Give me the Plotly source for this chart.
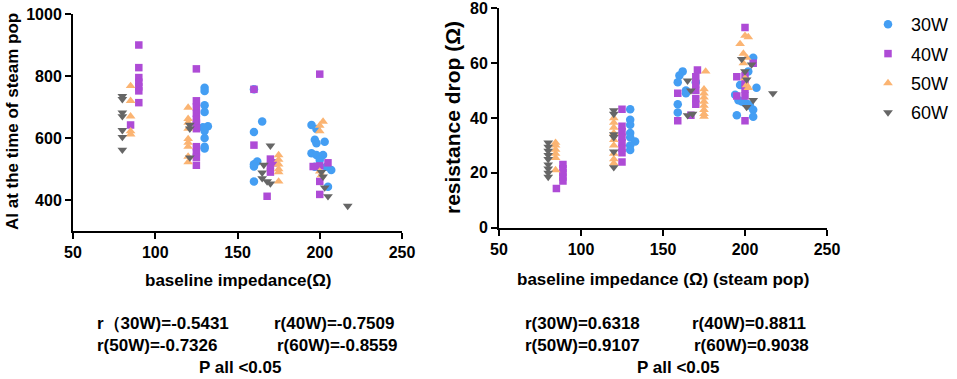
import plotly.graph_objects as go

# ---------------- data ----------------
series_names = ["30W", "40W", "50W", "60W"]

# Left panel: baseline impedance vs AI at the time of steam pop
ai_x_30 = [130, 130, 130, 130, 132, 129, 130, 130, 130, 130,
           165, 160, 162, 160, 160, 160, 160,
           195, 198, 197, 198, 203, 195, 198, 202, 200, 197, 204, 207, 205]
ai_y_30 = [762, 752, 706, 684, 638, 635, 623, 600, 572, 566,
           653, 619, 524, 515, 508, 460, 757,
           642, 629, 594, 583, 588, 551, 545, 545, 529, 507, 507, 497, 443]
ai_x_40 = [90, 90, 90, 90, 90, 90, 90, 85,
           125, 125, 125, 125, 125, 125, 125, 125, 125, 125, 125,
           160, 160, 170, 172, 170, 170, 168,
           200, 196, 205, 200, 200, 200]
ai_y_40 = [900, 827, 795, 780, 765, 752, 714, 642,
           823, 720, 700, 680, 660, 648, 630, 572, 555, 538, 512,
           757, 577, 532, 520, 510, 490, 412,
           806, 508, 520, 510, 460, 418]
ai_x_50 = [85, 85, 85, 85, 85,
           120, 120, 120, 120, 120, 120, 120, 120, 120,
           175, 175, 175, 175, 175, 175,
           202, 200, 200, 200, 201]
ai_y_50 = [768, 720, 670, 622, 612,
           698, 662, 650, 630, 597, 585, 572, 540, 522,
           545, 530, 515, 500, 490, 460,
           653, 640, 622, 492, 480]
ai_x_60 = [80, 80, 80, 80, 80, 80, 80,
           121, 121, 121,
           170, 166, 165, 165, 168, 170,
           201, 202, 203, 205, 217]
ai_y_60 = [735, 725, 682, 670, 625, 603, 562,
           642, 630, 537,
           575, 513, 488, 470, 460, 453,
           490, 475, 440, 412, 381]

# Right panel: baseline impedance vs resistance drop
rd_x_30 = [130, 130, 130, 130, 130, 133, 130, 130,
           162, 160, 159, 170, 164, 164, 159, 159,
           205, 202, 197, 207, 194, 196, 198, 200, 202, 203, 205, 195, 205]
rd_y_30 = [43.2, 39.4, 37.5, 34.5, 33, 31.4, 30, 28.3,
           57, 55.5, 53, 53, 50, 49, 45, 42,
           62, 57, 52, 51, 48.5, 46.5, 46, 45.5, 45, 44.5, 43, 41, 40.5]
rd_x_40 = [89, 89, 89, 89, 89, 85,
           125, 125, 125, 125, 125, 125, 125, 125,
           159, 159, 171, 170, 170, 170, 170, 170, 167,
           200, 195, 205, 200, 200, 200, 200, 195, 200]
rd_y_40 = [23, 21.5, 20, 18.5, 17, 14.3,
           43.2, 37, 35, 33, 31, 29, 27.3, 24,
           49, 39, 57.5, 55, 52.5, 50, 47, 45, 41,
           73, 55, 60, 55.5, 53, 50.5, 48, 48, 39]
rd_x_50 = [84.5, 84.5, 84.5, 84.5, 84.5, 84.5,
           120, 120, 120, 120, 120, 120, 120, 120, 120,
           176, 175, 175, 175, 175, 175, 175, 175, 175,
           200, 202, 197, 199, 201, 199, 200, 201, 202]
rd_y_50 = [31, 30, 28.5, 27, 25.5, 21,
           40, 38.3, 36.5, 34.5, 32, 30, 27, 25, 23.5,
           57, 50.5, 49, 47.5, 46, 44.5, 43, 41.5, 40.5,
           70, 69.5, 67, 63.5, 62, 60, 54.5, 52, 51]
rd_x_60 = [80, 80, 80, 80, 80, 80, 80, 80, 80,
           120, 120, 120, 120, 120, 120,
           165, 167, 165, 168,
           198, 204, 200, 201, 205, 201, 217]
rd_y_60 = [31, 29.5, 28, 26.5, 25, 23, 21.5, 20, 18.5,
           42.8, 41.5, 34, 33, 27.7, 22,
           53.6, 50, 41, 41.5,
           61.5, 59.5, 57, 54, 46.5, 44, 49]

x_ticks = [50, 100, 150, 200, 250]
ai_ticks = [400, 600, 800, 1000]
rd_ticks = [0, 20, 40, 60, 80]

left_stats = [["r（30W)=-0.5431", "r(40W)=-0.7509"],
              ["r(50W)=-0.7326", "r(60W)=-0.8559"]]
right_stats = [["r(30W)=0.6318", "r(40W)=0.8811"],
               ["r(50W)=0.9107", "r(60W)=0.9038"]]
p_text = "P all <0.05"

# ---------------- styling ----------------
colors = ["#449ef3", "#ae4bd6", "#fbb472", "#666666"]
symbols = ["circle", "square", "triangle-up", "triangle-down"]
sizes = [8.5, 7.5, 8.5, 8.5]
FONT = "Liberation Sans, Arial, sans-serif"
W, H = 957, 379

left_xy = [(ai_x_30, ai_y_30), (ai_x_40, ai_y_40), (ai_x_50, ai_y_50), (ai_x_60, ai_y_60)]
right_xy = [(rd_x_30, rd_y_30), (rd_x_40, rd_y_40), (rd_x_50, rd_y_50), (rd_x_60, rd_y_60)]

fig = go.Figure()
for i, name in enumerate(series_names):
    xs, ys = left_xy[i]
    fig.add_trace(go.Scatter(
        x=xs, y=ys, mode="markers", name=name, legendgroup=name,
        marker=dict(color=colors[i], symbol=symbols[i], size=sizes[i], line=dict(width=0)),
        xaxis="x", yaxis="y"))
for i, name in enumerate(series_names):
    xs, ys = right_xy[i]
    fig.add_trace(go.Scatter(
        x=xs, y=ys, mode="markers", name=name, legendgroup=name, showlegend=False,
        marker=dict(color=colors[i], symbol=symbols[i], size=sizes[i], line=dict(width=0)),
        xaxis="x2", yaxis="y2"))


def px_x(p):
    return p / W


def px_y(p):
    return 1 - p / H


axis_common = dict(showline=True, linecolor="black", linewidth=2, ticks="outside",
                   ticklen=6, tickwidth=2, tickcolor="black", showgrid=False,
                   zeroline=False, mirror=False, automargin=False,
                   ticklabeloverflow="allow",
                   tickfont=dict(family=FONT, size=16, color="black", weight="bold"))

fig.update_layout(
    width=W, height=H,
    margin=dict(l=0, r=0, t=0, b=0, autoexpand=False),
    paper_bgcolor="white", plot_bgcolor="white",
    font=dict(family=FONT, color="black"),
    xaxis=dict(domain=[px_x(73), px_x(402)], range=[50, 250], tickvals=x_ticks,
               anchor="y", **axis_common),
    yaxis=dict(domain=[px_y(231), px_y(14)], range=[300, 1000], tickvals=ai_ticks,
               anchor="x", **axis_common),
    xaxis2=dict(domain=[px_x(499), px_x(827)], range=[50, 250], tickvals=x_ticks,
                anchor="y2", **axis_common),
    yaxis2=dict(domain=[px_y(227.7), px_y(8.3)], range=[0, 80], tickvals=rd_ticks,
                anchor="x2", **axis_common),
    legend=dict(x=px_x(865), y=px_y(6), xanchor="left", yanchor="top",
                font=dict(family=FONT, size=18, color="black"), itemwidth=36,
                tracegroupgap=3, bgcolor="rgba(0,0,0,0)", itemsizing="trace"),
)

annots = []
# axis titles
annots.append(dict(text="AI at the time of steam pop", x=px_x(12), y=px_y(122),
                   textangle=-90, font=dict(size=17, weight="bold")))
annots.append(dict(text="resistance drop (Ω)", x=px_x(453), y=px_y(118),
                   textangle=-90, font=dict(size=21, weight="bold")))
annots.append(dict(text="baseline impedance(Ω)", x=px_x(238), y=px_y(280),
                   font=dict(size=17, weight="bold")))
annots.append(dict(text="baseline impedance (Ω) (steam pop)", x=px_x(663), y=px_y(279),
                   font=dict(size=17, weight="bold")))
# statistics
left_cols = [[95, 272], [95, 275]]
right_cols = [[523, 690], [523, 692]]
rows_y = [323, 345]
for r in range(2):
    for c in range(2):
        annots.append(dict(text=left_stats[r][c], x=px_x(left_cols[r][c]),
                           y=px_y(rows_y[r]), xanchor="left",
                           font=dict(size=17, weight="bold")))
        annots.append(dict(text=right_stats[r][c], x=px_x(right_cols[r][c]),
                           y=px_y(rows_y[r]), xanchor="left",
                           font=dict(size=17, weight="bold")))
annots.append(dict(text=p_text, x=px_x(240), y=px_y(367), font=dict(size=17, weight="bold")))
annots.append(dict(text=p_text, x=px_x(678), y=px_y(367), font=dict(size=17, weight="bold")))

for a in annots:
    a.setdefault("xanchor", "center")
    a.update(xref="paper", yref="paper", yanchor="middle", showarrow=False)
    a["font"] = dict(family=FONT, color="black", **a["font"])
fig.update_layout(annotations=annots)

# remove the browser's default 8px page margin so the figure fills the window exactly
fig.write_html("out.html", config={"displayModeBar": False},
               post_script="document.body.style.margin='0px';")
